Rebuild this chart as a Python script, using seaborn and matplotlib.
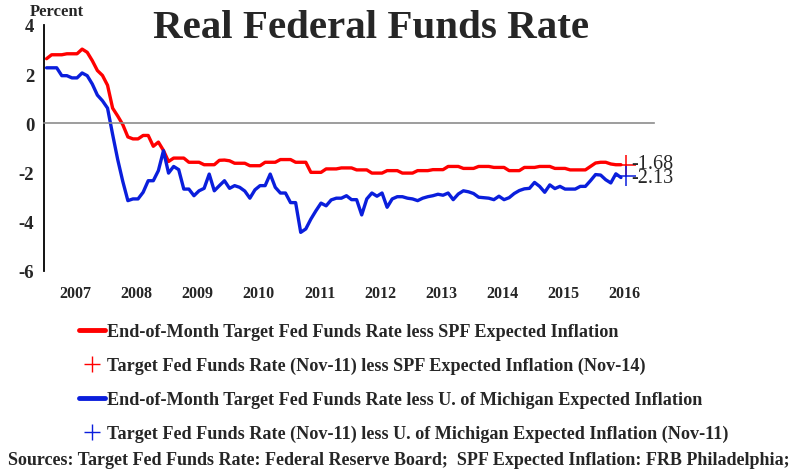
import numpy as np
import pandas as pd
import matplotlib.pyplot as plt
import seaborn as sns
from matplotlib.lines import Line2D

# monthly values, Jan 2007 - Jun 2016 (percent)
spf_real = [2.63, 2.79, 2.79, 2.79, 2.83, 2.83, 2.83, 3.02, 2.89, 2.55, 2.15, 1.95,
            1.55, 0.62, 0.30, -0.05, -0.55, -0.63, -0.63, -0.49, -0.49, -0.93, -0.76, -1.10,
            -1.55, -1.41, -1.41, -1.41, -1.58, -1.58, -1.58, -1.68, -1.68, -1.68, -1.50, -1.49,
            -1.52, -1.62, -1.62, -1.62, -1.72, -1.72, -1.72, -1.58, -1.58, -1.58, -1.47, -1.47,
            -1.47, -1.58, -1.58, -1.58, -1.99, -1.99, -1.99, -1.85, -1.85, -1.85, -1.81, -1.81,
            -1.81, -1.89, -1.89, -1.89, -2.02, -2.02, -2.02, -1.92, -1.92, -1.92, -2.02, -2.02,
            -2.02, -1.92, -1.92, -1.92, -1.88, -1.88, -1.88, -1.75, -1.75, -1.75, -1.83, -1.83,
            -1.83, -1.75, -1.75, -1.75, -1.79, -1.79, -1.79, -1.92, -1.92, -1.92, -1.79, -1.79,
            -1.79, -1.75, -1.75, -1.75, -1.83, -1.83, -1.83, -1.89, -1.89, -1.89, -1.89, -1.75,
            -1.61, -1.58, -1.58, -1.65, -1.68, -1.68]
mich_real = [2.26, 2.26, 2.26, 1.94, 1.94, 1.85, 1.85, 2.05, 1.94, 1.60, 1.15, 0.92,
             0.62, -0.45, -1.47, -2.36, -3.14, -3.07, -3.07, -2.80, -2.33, -2.33, -1.92, -1.11,
             -2.02, -1.75, -1.88, -2.67, -2.67, -2.94, -2.74, -2.64, -2.06, -2.74, -2.53, -2.33,
             -2.64, -2.53, -2.60, -2.75, -3.04, -2.70, -2.53, -2.53, -2.06, -2.60, -2.83, -2.83,
             -3.22, -3.22, -4.43, -4.29, -3.89, -3.55, -3.24, -3.35, -3.11, -3.04, -3.04, -2.94,
             -3.10, -3.10, -3.72, -3.07, -2.83, -2.96, -2.83, -3.41, -3.07, -2.98, -2.98, -3.04,
             -3.07, -3.14, -3.04, -2.98, -2.94, -2.88, -2.92, -2.83, -3.10, -2.87, -2.74, -2.78,
             -2.85, -3.00, -3.02, -3.04, -3.10, -2.96, -3.10, -3.02, -2.85, -2.73, -2.66, -2.64,
             -2.40, -2.56, -2.80, -2.50, -2.65, -2.56, -2.67, -2.67, -2.67, -2.56, -2.56, -2.33,
             -2.08, -2.10, -2.29, -2.42, -2.05, -2.20]
spf_nov = -1.68
mich_nov = -2.13
years = list(range(2007, 2017))
yticks = [4, 2, 0, -2, -4, -6]

t = 2007 + (np.arange(len(spf_real)) + 0.5) / 12
t_cross = 2007 + 114.5 / 12
df = pd.DataFrame({'t': np.concatenate([t, t]),
                   'value': spf_real + mich_real,
                   'series': ['spf'] * len(t) + ['mich'] * len(t)})

sns.set_style('white')
plt.rcParams['font.family'] = ['Liberation Serif', 'DejaVu Serif']

red = '#ff0000'
blue = '#0a1edc'

fig = plt.figure(figsize=(8.09, 4.77), dpi=100)
ax = fig.add_axes([44 / 809, 1 - 272 / 477, 610 / 809, 246 / 477])

sns.lineplot(data=df, x='t', y='value', hue='series', palette={'spf': red, 'mich': blue},
             linewidth=2.4, legend=False, ax=ax)
ax.plot([t_cross], [spf_nov], marker='+', color=red, markersize=14, mew=1.1, ls='none')
ax.plot([t_cross], [mich_nov], marker='+', color=blue, markersize=14, mew=1.1, ls='none')
ax.text(t_cross + 0.08, spf_nov + 0.03, '-1.68', fontsize=14.5, va='center', ha='left')
ax.text(t_cross + 0.08, mich_nov - 0.05, '-2.13', fontsize=14.5, va='center', ha='left')

ax.set_xlim(2007, 2017)
ax.set_ylim(-6, 4)
ax.set_yticks(yticks)
ax.set_yticklabels([str(v) for v in yticks], fontsize=13.5, fontweight='bold')
ax.set_xticks(range(2008, 2018))
ax.set_xticklabels([])
ax.set_xlabel('')
ax.set_ylabel('')

ax.spines['top'].set_visible(False)
ax.spines['right'].set_visible(False)
ax.spines['left'].set_color('black')
ax.spines['left'].set_linewidth(1.3)
ax.spines['bottom'].set_position(('data', 0))
ax.spines['bottom'].set_color('#8c8c8c')
ax.spines['bottom'].set_linewidth(1.2)
ax.tick_params(axis='y', direction='out', length=5, width=1.2, color='black', pad=2)
ax.tick_params(axis='x', direction='out', length=5, width=1.2, color='#8c8c8c')

for y in years:
    ax.text(y + 0.52, -0.09, str(y), transform=ax.get_xaxis_transform(),
            ha='center', va='center', fontsize=11.5, fontweight='bold')

fig.text(30 / 809, 1 - 12 / 477, 'Percent', fontsize=12, fontweight='bold', va='center')
fig.text(371 / 809, 1 - 29 / 477, 'Real Federal Funds Rate', fontsize=29.5,
         fontweight='bold', ha='center', va='center')

handles = [Line2D([], [], color=red, lw=3.5),
           Line2D([], [], color=red, marker='+', ls='none', markersize=11, mew=1),
           Line2D([], [], color=blue, lw=3.5),
           Line2D([], [], color=blue, marker='+', ls='none', markersize=11, mew=1)]
labels = ['End-of-Month Target Fed Funds Rate less SPF Expected Inflation',
          'Target Fed Funds Rate (Nov-11) less SPF Expected Inflation (Nov-14)',
          'End-of-Month Target Fed Funds Rate less U. of Michigan Expected Inflation',
          'Target Fed Funds Rate (Nov-11) less U. of Michigan Expected Inflation (Nov-11)']
fig.legend(handles, labels, loc='upper left', bbox_to_anchor=(72 / 809, 1 - 317 / 477),
           frameon=False, prop={'family': 'Liberation Serif', 'weight': 'bold', 'size': 13.1},
           handlelength=1.4, handletextpad=0.1, labelspacing=0.92, borderaxespad=0)

fig.text(8 / 809, 1 - 461 / 477,
         'Sources: Target Fed Funds Rate: Federal Reserve Board;  SPF Expected Inflation: FRB Philadelphia;',
         fontsize=13.0, fontweight='bold', va='center')

fig.savefig('out.png', dpi=100)
